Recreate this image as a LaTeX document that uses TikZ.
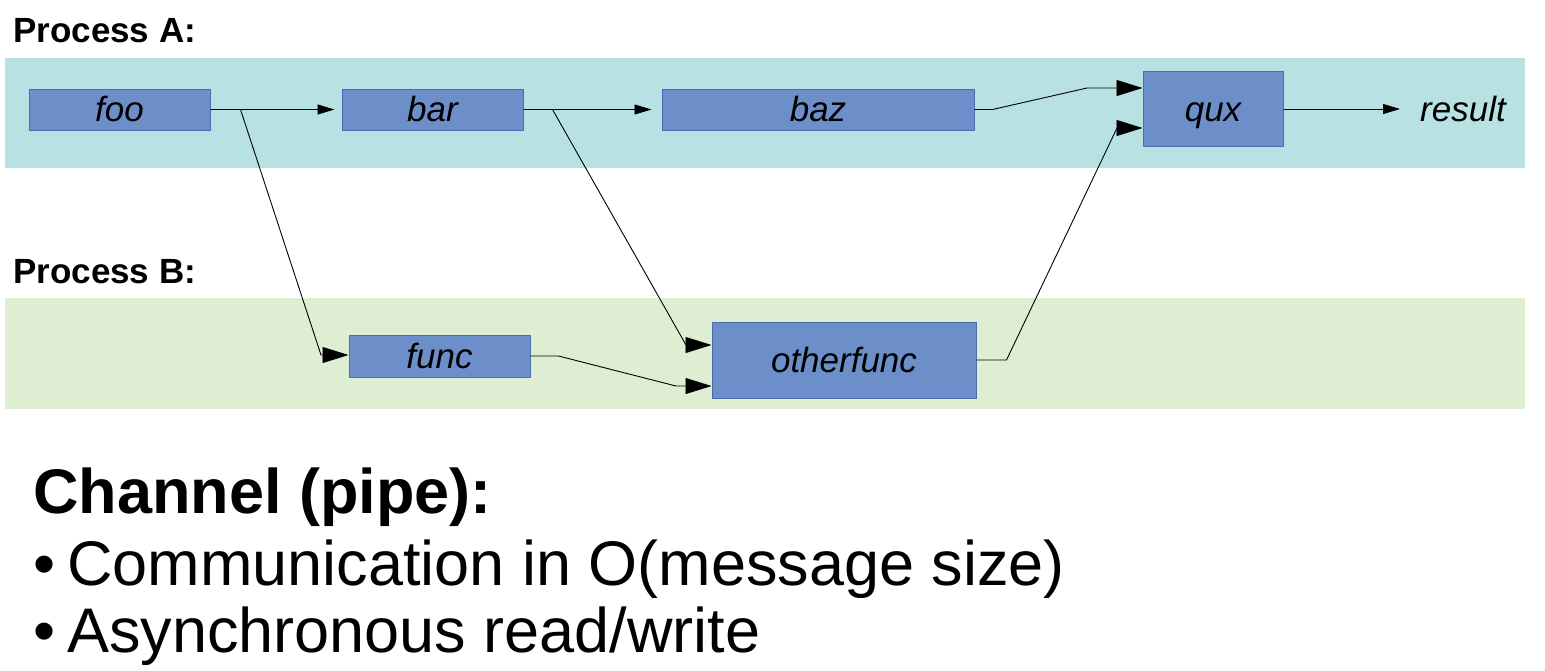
\documentclass[tikz,border=0pt]{standalone}
\usepackage{fontspec}
\setmainfont{Liberation Sans}
\usetikzlibrary{arrows.meta}
\definecolor{bandA}{HTML}{B7E1E2}
\definecolor{bandB}{HTML}{DDEED3}
\definecolor{boxfill}{HTML}{6D8FC9}
\definecolor{boxline}{HTML}{4B6DAF}
\begin{document}
\begin{tikzpicture}[x=1pt,y=-1pt,
  fn/.style={draw=boxline, fill=boxfill, inner sep=0pt, line width=1pt,
    text height=24pt, text depth=0pt,
    font=\fontsize{35}{35}\selectfont\itshape},
  conn/.style={line width=0.9pt, line join=miter},
  smallarr/.style={conn,-{Triangle[length=17pt,width=10pt]}},
  bigarr/.style={conn,-{Triangle[length=26pt,width=16pt]}},
  plabel/.style={anchor=base west, inner sep=0pt, font=\fontsize{35}{35}\selectfont\bfseries},
  bigtext/.style={anchor=base west, inner sep=0pt, font=\fontsize{63}{63}\selectfont}]
\fill[white] (0,0) rectangle (1545,670);
\useasboundingbox (0,0) rectangle (1545,670);
% bands
\fill[bandA] (5,58) rectangle (1525,168);
\fill[bandB] (5,298) rectangle (1525,409);
\node[plabel] (pa) at (13,42) {Process A:};
\node[plabel] (pb) at (13,283) {Process B:};
% boxes
\node[fn, minimum width=181pt, minimum height=41pt] (foo) at (119.5,109.5) {foo};
\node[fn, minimum width=181pt, minimum height=41pt] (bar) at (432.5,109.5) {bar};
\node[fn, minimum width=312pt, minimum height=41pt] (baz) at (818,109.5) {baz};
\node[fn, minimum width=140pt, minimum height=75pt] (qux) at (1213,109) {qux};
\node[fn, minimum width=181pt, minimum height=42pt] (func) at (439.5,356) {func};
\node[fn, minimum width=264pt, minimum height=76pt] (other) at (844,360) {otherfunc};
\node[inner sep=0pt, anchor=west, text height=24pt, text depth=0pt,
  font=\fontsize{35}{35}\selectfont\itshape] (result) at (1420,109) {result};
% connectors
\draw[smallarr, shorten >=7pt] (foo.east) -- (bar.west);
\draw[smallarr, shorten >=10pt] (bar.east) -- (baz.west);
\draw[smallarr, shorten >=20pt] (qux.east) -- (result.west);
\draw[bigarr] (foo.east) -- ++(30,0) -- (321,355) -- ([yshift=1pt]func.west);
\draw[bigarr] (bar.east) -- ++(29,0) -- (686,345) -- ([yshift=15pt]other.west);
\draw[bigarr] (func.east) -- ++(28,0) -- (676,386) -- ([yshift=-26pt]other.west);
\draw[bigarr] (baz.east) -- ++(18,0) -- (1087,88) -- ([yshift=21pt]qux.west);
\draw[bigarr] (other.east) -- ++(30,0) -- (1117,128) -- ([yshift=-19pt]qux.west);
% text
\node[bigtext, font=\fontsize{63}{63}\selectfont\bfseries] (t1) at (33,513) {Channel (pipe):};
\node[bigtext] (t2) at (33,585) {•\hspace{12pt}Communication in O(message size)};
\node[bigtext] (t3) at (33,652) {•\hspace{12pt}Asynchronous read/write};
\end{tikzpicture}
\end{document}
